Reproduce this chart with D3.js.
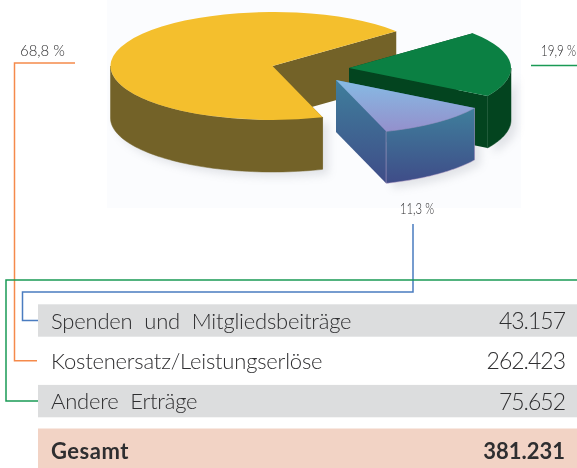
<!DOCTYPE html>
<meta charset="utf-8">
<style>
  html, body { margin: 0; padding: 0; background: #fff; }
  svg { display: block; }
  text { font-family: Lato, "Open Sans", sans-serif; fill: #2e2e30; }
</style>
<body>
<script src="https://d3js.org/d3.v7.min.js"></script>
<script>
  var categories = ["Spenden und Mitgliedsbeiträge", "Kostenersatz/Leistungserlöse", "Andere Erträge"];
  var values = [43157, 262423, 75652];
  var valueLabels = ["43.157", "262.423", "75.652"];
  var percentLabels = ["11,3 %", "68,8 %", "19,9 %"];
  var totalLabel = "Gesamt";
  var totalValue = "381.231";

  var width = 577, height = 468;
  var rad = Math.PI / 180;

  var svg = d3.select("body").append("svg")
          .attr("width", width)
          .attr("height", height);

  var defs = svg.append("defs");

  function gradient(id, from, to) {
    var g = defs.append("linearGradient").attr("id", id)
            .attr("x1", 0).attr("y1", 0).attr("x2", 0).attr("y2", 1);
    g.append("stop").attr("offset", "0%").attr("stop-color", from);
    g.append("stop").attr("offset", "100%").attr("stop-color", to);
  }
  gradient("blueTop", "#86bbe4", "#9490cc");
  gradient("blueWall", "#3f7f9c", "#3f4c88");

  defs.append("filter").attr("id", "soft").attr("x", "-20%").attr("y", "-20%").attr("width", "140%").attr("height", "140%")
          .append("feGaussianBlur").attr("stdDeviation", 4);

  // faint backdrop behind the pie picture
  svg.append("rect").attr("x", 107).attr("y", 0).attr("width", 414).attr("height", 208).attr("fill", "#fbfcfe");

  // 3d pie: angles come from d3.pie, then squashed to an ellipse
  var rx = 162, ry = 54, depth = 52;
  var pieOrder = [1, 2, 0];
  var styles = {
    1: {cx: 272.5, cy: 66, top: "#f4bf2d", wall: "#736228", edge: "#736228"},
    2: {cx: 349, cy: 68, top: "#0b8043", wall: "#03441f", edge: "#03441f"},
    0: {cx: 336, cy: 80, top: "url(#blueTop)", wall: "url(#blueWall)", edge: "#b79fc6"}
  };

  var pie = d3.pie().sort(null)
          .value(function(i) { return values[i]; })
          .startAngle(162 * rad)
          .endAngle(522 * rad);
  var slices = pie(pieOrder);

  var arc = d3.arc().innerRadius(0).outerRadius(rx);

  function px(s, a) { return s.cx + rx * Math.sin(a); }
  function py(s, a) { return s.cy - ry * Math.cos(a); }

  var wallArea = d3.area()
          .x(function(d) { return d.x; })
          .y0(function(d) { return d.y + depth; })
          .y1(function(d) { return d.y; });

  // angles of the outer rim that face the viewer
  function frontAngles(d) {
    var out = [];
    [0, 2 * Math.PI].forEach(function(turn) {
      var a0 = Math.max(d.startAngle, Math.PI / 2 + turn),
          a1 = Math.min(d.endAngle, 3 * Math.PI / 2 + turn);
      if (a1 > a0) {
        d3.range(0, 61).forEach(function(k) { out.push(a0 + (a1 - a0) * k / 60); });
      }
    });
    return out;
  }

  var shadow = svg.append("g").attr("filter", "url(#soft)").attr("opacity", 0.22);
  var pieG = svg.append("g");

  slices.forEach(function(d) {
    var s = styles[d.data];
    var rim = frontAngles(d).map(function(a) { return {x: px(s, a), y: py(s, a)}; });

    shadow.append("path")
            .attr("transform", "translate(6,5)")
            .attr("fill", "#8a8f99")
            .attr("d", wallArea(rim));

    // cut faces
    [d.startAngle, d.endAngle].forEach(function(a) {
      pieG.append("path")
              .attr("fill", s.wall)
              .attr("d", wallArea([{x: s.cx, y: s.cy}, {x: px(s, a), y: py(s, a)}]));
    });
    // outer rim
    if (rim.length) {
      pieG.append("path")
              .attr("fill", s.wall)
              .attr("stroke", s.edge)
              .attr("stroke-width", 0.5)
              .attr("d", wallArea(rim));
    }
    // top face
    pieG.append("path")
            .attr("transform", "translate(" + s.cx + "," + s.cy + ") scale(1," + (ry / rx) + ")")
            .attr("fill", s.top)
            .attr("d", arc(d));
  });

  // table rows
  var y = d3.scaleBand().domain(categories).range([304.3, 417.3]).paddingInner(0.196);

  svg.selectAll("rect.row")
          .data(categories.filter(function(c, i) { return i !== 1; }))
          .enter().append("rect")
          .attr("class", "row")
          .attr("x", 38)
          .attr("y", function(d) { return y(d); })
          .attr("width", width - 38)
          .attr("height", y.bandwidth())
          .attr("fill", "#dcddde");

  svg.append("rect").attr("x", 38).attr("y", 428.5).attr("width", width - 38).attr("height", 40).attr("fill", "#f2d3c5");

  svg.selectAll("text.cat")
          .data(categories)
          .enter().append("text")
          .attr("class", "cat")
          .attr("x", 51)
          .attr("y", function(d) { return y(d) + y.bandwidth() / 2 + 8; })
          .attr("font-size", 22)
          .attr("font-weight", 300)
          .attr("letter-spacing", -0.2)
          .attr("word-spacing", 6)
          .text(function(d) { return d; });

  svg.selectAll("text.val")
          .data(valueLabels)
          .enter().append("text")
          .attr("class", "val")
          .attr("x", 565)
          .attr("y", function(d, i) { return y(categories[i]) + y.bandwidth() / 2 + 8.5; })
          .attr("text-anchor", "end")
          .attr("font-size", 23)
          .attr("font-weight", 300)
          .attr("letter-spacing", -1)
          .text(function(d) { return d; });

  svg.append("text").attr("x", 51).attr("y", 459).attr("font-size", 22).attr("font-weight", 700).attr("letter-spacing", 0.5).text(totalLabel);
  svg.append("text").attr("x", 565).attr("y", 459).attr("text-anchor", "end").attr("font-size", 22).attr("font-weight", 700).text(totalValue);

  // leader lines
  var line = d3.line();
  var rowMid = function(i) { return y(categories[i]) + y.bandwidth() / 2; };
  var leaders = [
    {color: "#4a7cc0", pts: [[413, 224], [413, 292], [22.5, 292], [22.5, rowMid(0)], [38, rowMid(0)]]},
    {color: "#f58a4b", pts: [[75, 63], [14.5, 63], [14.5, rowMid(1)], [37, rowMid(1)]]},
    {color: "#1a9a55", pts: [[577, 280], [6, 280], [6, rowMid(2)], [38, rowMid(2)]]},
    {color: "#1a9a55", pts: [[531, 65.5], [577, 65.5]]}
  ];
  svg.selectAll("path.leader")
          .data(leaders)
          .enter().append("path")
          .attr("class", "leader")
          .attr("fill", "none")
          .attr("stroke", function(d) { return d.color; })
          .attr("stroke-width", 1.5)
          .attr("d", function(d) { return line(d.pts); });

  // percent labels, the ones in the reference are set tight
  var labelPos = [[400, 214, 34], [20, 56, 45], [541, 56, 35]];
  svg.selectAll("text.pct")
          .data(percentLabels)
          .enter().append("text")
          .attr("class", "pct")
          .attr("x", function(d, i) { return labelPos[i][0]; })
          .attr("y", function(d, i) { return labelPos[i][1]; })
          .attr("font-size", 15)
          .attr("font-weight", 300)
          .attr("textLength", function(d, i) { return labelPos[i][2]; })
          .attr("lengthAdjust", "spacingAndGlyphs")
          .text(function(d) { return d; });
</script>
</body>
</html>
